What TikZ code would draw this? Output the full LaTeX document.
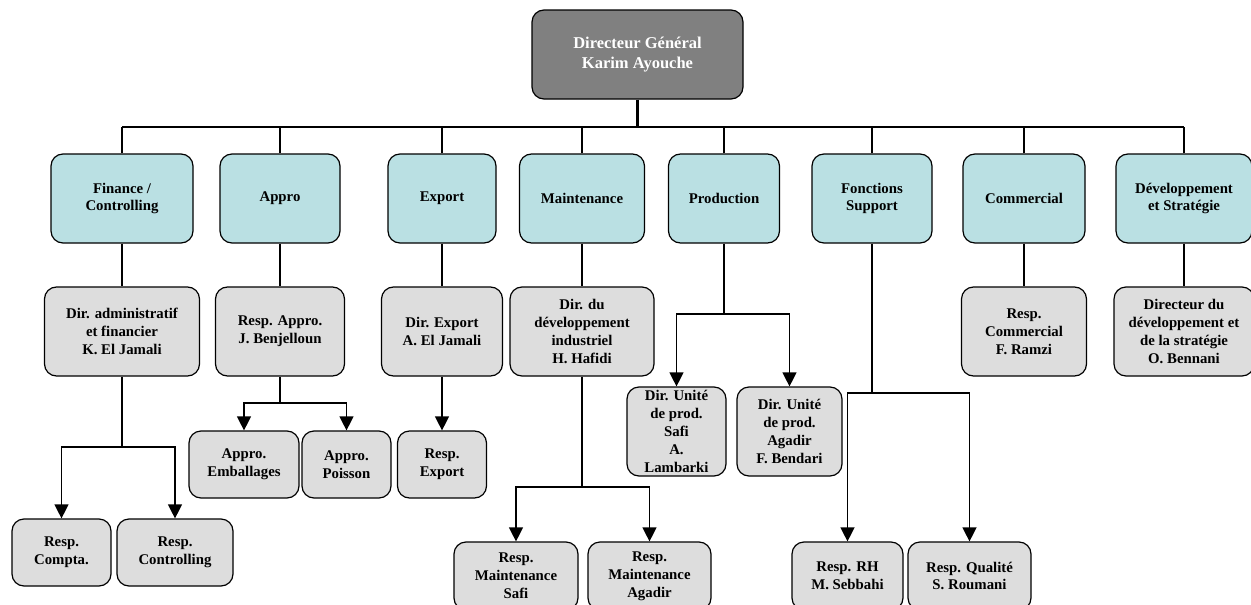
\documentclass[tikz,border=0pt]{standalone}
\usepackage{fontspec}
\setmainfont{Liberation Serif}
\usetikzlibrary{arrows.meta}
\definecolor{lblue}{HTML}{BAE0E3}
\definecolor{lgray}{HTML}{DDDDDD}
\definecolor{dgray}{HTML}{808080}
\begin{document}
\begin{tikzpicture}[x=1pt,y=-1pt,
 box/.style={draw=black, line width=1.2pt, rounded corners=12pt, align=center, inner sep=0pt,
   font=\bfseries\fontsize{14.8}{17.8}\selectfont},
 l1/.style={box, fill=lblue, minimum height=89pt},
 l2/.style={box, fill=lgray, minimum height=89pt},
 l3/.style={box, fill=lgray, minimum height=67pt},
 l4/.style={box, fill=lgray, minimum height=68pt},
 topbox/.style={box, fill=dgray, text=white, minimum width=211pt, minimum height=89pt,
   font=\bfseries\fontsize{16.5}{19.3}\selectfont},
 link/.style={line width=1.3pt},
 arr/.style={link, -{Triangle[width=14pt,length=14pt]}},
]
\useasboundingbox (0,0) rectangle (1251,605);
% top
\node[topbox] (dg) at (637.5,54.5) {Directeur Général\\Karim Ayouche};
% level 1
\node[l1, minimum width=142pt] (fin) at (122,198.5) {Finance /\\Controlling};
\node[l1, minimum width=120pt] (app) at (280,198.5) {Appro};
\node[l1, minimum width=108pt] (exp) at (442,198.5) {Export};
\node[l1, minimum width=125pt] (mai) at (582,198.5) {Maintenance};
\node[l1, minimum width=111pt] (pro) at (724,198.5) {Production};
\node[l1, minimum width=120pt] (fs) at (872,198.5) {Fonctions\\Support};
\node[l1, minimum width=122pt] (com) at (1024,198.5) {Commercial};
\node[l1, minimum width=136pt] (dev) at (1184,198.5) {Développement\\et Stratégie};
% level 2
\node[l2, minimum width=155pt] (da) at (122,331.5) {Dir. administratif\\et financier\\K. El Jamali};
\node[l2, minimum width=129pt] (ra) at (280,331.5) {Resp. Appro.\\J. Benjelloun};
\node[l2, minimum width=121pt] (de) at (442,331.5) {Dir. Export\\A. El Jamali};
\node[l2, minimum width=144pt] (ddi) at (582,331.5) {Dir. du\\développement\\industriel\\H. Hafidi};
\node[l2, minimum width=125pt] (rc) at (1024,331.5) {Resp.\\Commercial\\F. Ramzi};
\node[l2, minimum width=140pt] (dds) at (1184,331.5) {Directeur du\\développement et\\de la stratégie\\O. Bennani};
% level 3
\node[l3, minimum width=99pt] (cpt) at (61.5,552.5) {Resp.\\Compta.};
\node[l3, minimum width=116pt] (ctl) at (175,552.5) {Resp.\\Controlling};
\node[l3, minimum width=110pt] (emb) at (244,464.5) {Appro.\\Emballages};
\node[l3, minimum width=89pt] (poi) at (346.5,464.5) {Appro.\\Poisson};
\node[l3, minimum width=89pt] (rex) at (442,464.5) {Resp.\\Export};
\node[l2, minimum width=99pt] (dus) at (676.5,431.5) {Dir. Unité\\de prod.\\Safi\\A.\\Lambarki};
\node[l2, minimum width=105pt] (dua) at (789.5,431.5) {Dir. Unité\\de prod.\\Agadir\\F. Bendari};
\node[l4, minimum width=124pt] (rms) at (516,576) {Resp.\\Maintenance\\Safi};
\node[l4, minimum width=123pt] (rma) at (649.5,576) {Resp.\\Maintenance\\Agadir};
\node[l4, minimum width=111pt] (rh) at (847.5,576) {Resp. RH\\M. Sebbahi};
\node[l4, minimum width=123pt] (rq) at (969.5,576) {Resp. Qualité\\S. Roumani};
% bus
\coordinate (bus) at (637.5,127);
\draw[line width=2.4pt] (dg.south) -- (bus);
\draw[link] (fin.north |- bus) -- (dev.north |- bus);
\foreach \n in {fin,app,exp,mai,pro,fs,com,dev}
  \draw[link] (\n.north) -- (\n.north |- bus);
% level1 -> level2
\foreach \a/\b in {fin/da,app/ra,exp/de,mai/ddi,com/rc,dev/dds}
  \draw[link] (\a.south) -- (\b.north);
% branches
\coordinate (jf) at (122,447);
\draw[link] (da.south) -- (jf);
\draw[arr] (jf) -| (cpt.north);
\draw[arr] (jf) -| (ctl.north);
\coordinate (ja) at (280,403);
\draw[link] (ra.south) -- (ja);
\draw[arr] (ja) -| (emb.north);
\draw[arr] (ja) -| (poi.north);
\draw[arr] (de.south) -- (rex.north);
\coordinate (jm) at (582,487);
\draw[link] (ddi.south) -- (jm);
\draw[arr] (jm) -| (rms.north);
\draw[arr] (jm) -| (rma.north);
\coordinate (jp) at (724,314);
\draw[link] (pro.south) -- (jp);
\draw[arr] (jp) -| (dus.north);
\draw[arr] (jp) -| (dua.north);
\coordinate (js) at (872,393);
\draw[link] (fs.south) -- (js);
\draw[arr] (js) -| (rh.north);
\draw[arr] (js) -| (rq.north);
\end{tikzpicture}
\end{document}
